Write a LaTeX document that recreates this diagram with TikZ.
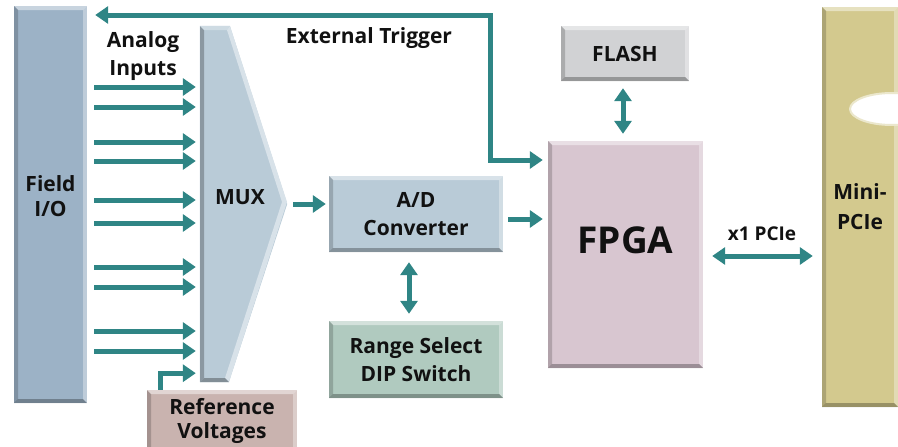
\documentclass[tikz,border=0pt]{standalone}
\usepackage{fontspec}
\setmainfont{Open Sans}
\usetikzlibrary{arrows.meta,calc}
\definecolor{arrowc}{HTML}{2F8585}
\definecolor{fioc}{HTML}{9CB2C6}
\definecolor{muxc}{HTML}{B9CBD7}
\definecolor{adc}{HTML}{B9CBD7}
\definecolor{fpgac}{HTML}{D8C6D0}
\definecolor{flashc}{HTML}{D1D2D4}
\definecolor{rangec}{HTML}{B0CABF}
\definecolor{refc}{HTML}{C9B3AF}
\definecolor{minic}{HTML}{D3C98E}
\definecolor{txtc}{HTML}{111111}
\newcommand\lblfont{\fontsize{21}{28}\selectfont\bfseries}
\tikzset{
  bevel/.style={path picture={
    \fill[white,opacity=0.45] (path picture bounding box.north west) -- (path picture bounding box.north east)
      -- ([shift={(-4pt,-4pt)}]path picture bounding box.north east) -- ([shift={(4pt,-4pt)}]path picture bounding box.north west) -- cycle;
    \fill[white,opacity=0.35] (path picture bounding box.north east) -- (path picture bounding box.south east)
      -- ([shift={(-4pt,4pt)}]path picture bounding box.south east) -- ([shift={(-4pt,-4pt)}]path picture bounding box.north east) -- cycle;
    \fill[black,opacity=0.28] (path picture bounding box.south west) -- (path picture bounding box.south east)
      -- ([shift={(-4pt,4pt)}]path picture bounding box.south east) -- ([shift={(4pt,4pt)}]path picture bounding box.south west) -- cycle;
    \fill[black,opacity=0.18] (path picture bounding box.north west) -- (path picture bounding box.south west)
      -- ([shift={(4pt,4pt)}]path picture bounding box.south west) -- ([shift={(4pt,-4pt)}]path picture bounding box.north west) -- cycle;
  }},
  box/.style={rectangle, inner sep=0pt, align=center, font=\lblfont, text=txtc, bevel},
  lbl/.style={inner sep=0pt, align=center, font=\lblfont, text=txtc},
  arr/.style={draw=arrowc, line width=5pt, -{Triangle[length=13pt,width=17pt]}},
  dbl/.style={draw=arrowc, line width=5pt, {Triangle[length=13pt,width=17pt]}-{Triangle[length=13pt,width=17pt]}},
}
\begin{document}
\begin{tikzpicture}[x=1pt,y=-1pt]
\useasboundingbox (0,0) rectangle (898,447);
\clip (0,0) rectangle (898,447);

% Field I/O
\node[box, fill=fioc, minimum width=73pt, minimum height=397pt,
  label={[lbl, font=\fontsize{21}{25}\selectfont\bfseries, yshift=8pt]center:Field\\I/O}] (fio) at (50.5,204.5) {};

% MUX
\node[inner sep=0pt, minimum width=87pt, minimum height=356pt] (mux) at (243.5,204) {};
\fill[muxc] (mux.north west) -- ([xshift=30pt]mux.north west) -- (mux.east) -- ([xshift=29pt]mux.south west) -- (mux.south west) -- cycle;
\fill[muxc!75!black] (200,26) -- (204,30) -- (204,378) -- (200,382) -- cycle;
\fill[muxc!70!white] (200,26) -- (230,26) -- (227,30) -- (204,30) -- cycle;
\fill[muxc!55!white] (230,26) -- (287,202) -- (282,202) -- (227,30) -- cycle;
\fill[muxc!55!white] (287,202) -- (229,382) -- (225,378) -- (282,202) -- cycle;
\fill[muxc!70!black] (200,382) -- (229,382) -- (225,378) -- (204,378) -- cycle;
\node[lbl] (muxt) at (240,197) {MUX};

% other boxes
\node[box, fill=adc, minimum width=174pt, minimum height=76pt] (ad) at (416,214) {A/D\\Converter};
\node[box, fill=rangec, minimum width=174pt, minimum height=77pt] (range) at (416,359.5) {Range Select\\DIP Switch};
\node[box, fill=flashc, minimum width=128pt, minimum height=55pt] (flash) at (625,53.5) {FLASH};
\node[box, fill=fpgac, minimum width=155pt, minimum height=227pt,
  label={[lbl, font=\fontsize{37}{40}\selectfont\bfseries, yshift=14pt]center:FPGA}] (fpga) at (625.5,254.5) {};
\node[box, fill=refc, minimum width=150pt, minimum height=62pt,
  font=\fontsize{21}{24}\selectfont\bfseries] (ref) at (222,421) {Reference\\Voltages};
\node[box, fill=minic, minimum width=76pt, minimum height=400pt,
  font=\fontsize{21}{30}\selectfont\bfseries] (mini) at (860,207) {Mini-\\PCIe};
\begin{scope}
  \clip (mini.south west) rectangle (mini.north east);
  \fill[white] (892,109) ellipse [x radius=42pt, y radius=16pt];
  \draw[minic!45!white, line width=2pt] (892,109) ellipse [x radius=42pt, y radius=16pt];
\end{scope}

% labels
\node[lbl] (analog) at (143,56) {Analog\\Inputs};
\node[lbl] (trig) at (369,38) {External Trigger};
\node[lbl, font=\fontsize{19}{22}\selectfont\bfseries] (pcie) at (762,234) {x1 PCIe};

% analog input arrows
\foreach \i/\y in {1/87,2/107,3/142,4/161,5/200,6/223,7/267,8/287,9/331,10/351}{
  \coordinate (in\i) at (0,\y);
  \draw[arr, shorten <=7pt, shorten >=4pt] (fio.east |- in\i) -- (mux.west |- in\i);
}

% reference voltages
\draw[arr, shorten >=4pt] ([xshift=14pt]ref.north west) |- ([yshift=9pt]mux.south west);

% external trigger
\coordinate (trigB) at (490,160);
\coordinate (trigA) at (490,15);
\draw[dbl, shorten <=5pt, shorten >=8pt] (fpga.west |- trigB) -- (trigB) -- (trigA) -- (fio.east |- trigA);

% MUX -> A/D
\draw[arr, shorten <=6pt, shorten >=3pt] (mux.east) -- (mux.east -| ad.west);
% A/D -> FPGA
\draw[arr, shorten <=5pt, shorten >=5pt] ([yshift=-5pt]ad.east) -- ([yshift=-5pt]ad.east -| fpga.west);
% FLASH <-> FPGA
\draw[dbl, shorten <=7pt, shorten >=7pt] ([xshift=-2pt]flash.south) -- ([xshift=-2pt]flash.south |- fpga.north);
% A/D <-> Range
\draw[dbl, shorten <=10pt, shorten >=7pt] ([xshift=-7pt]ad.south) -- ([xshift=-7pt]ad.south |- range.north);
% FPGA <-> Mini-PCIe
\draw[dbl, shorten <=9pt, shorten >=9pt] ([yshift=-1.5pt]fpga.east) -- ([yshift=-1.5pt]fpga.east -| mini.west);
\end{tikzpicture}
\end{document}
